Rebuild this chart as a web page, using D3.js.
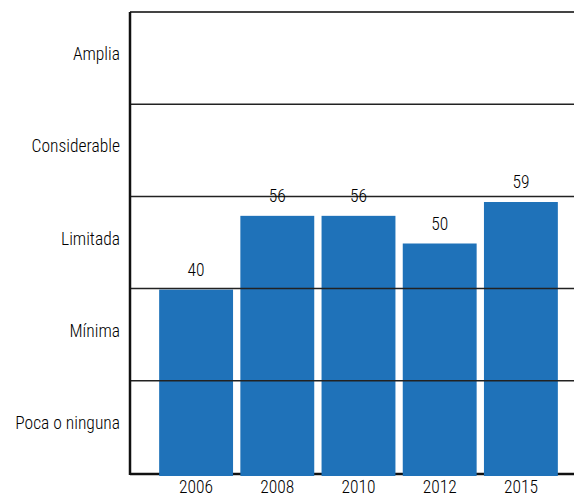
<!DOCTYPE html>
<html>
<head>
<meta charset="utf-8">
<script src="https://cdn.jsdelivr.net/npm/d3@7"></script>
<style>
  body { margin: 0; background: #fff; }
  text { font-family: "Liberation Sans Narrow", "Roboto Condensed", "DejaVu Sans Condensed", Roboto, sans-serif; font-size: 17.5px; font-weight: 300; fill: #000; }
</style>
</head>
<body>
<div id="grafica"></div>
<script>
// datos
let years = ["2006", "2008", "2010", "2012", "2015"]
let values = [40, 56, 56, 50, 59]
let levels = ["Poca o ninguna", "Mínima", "Limitada", "Considerable", "Amplia"]
let levelTicks = [0, 20, 40, 60, 80, 100]

let width = 574
let height = 496

let plotLeft = 130
let plotTop = 13
let plotBottom = 474

const xScale = d3.scaleBand()
  .domain(years)
  .range([155.5, 561.5])
  .paddingInner(0.09)
  .paddingOuter(0.045)

const yScale = d3.scaleLinear()
  .domain([0, 100])
  .range([plotBottom, plotTop])

const svg = d3.select('#grafica')
  .append("svg")
  .attr("width", width)
  .attr("height", height)

// linea base
svg.append("line")
  .attr("x1", plotLeft)
  .attr("x2", width)
  .attr("y1", yScale(0))
  .attr("y2", yScale(0))
  .attr("stroke", "#111")
  .attr("stroke-width", 2.5)

// barras
svg.selectAll("rect.bar")
  .data(values)
  .enter()
  .append("rect")
  .attr("class", "bar")
  .attr("x", (d, i) => xScale(years[i]))
  .attr("y", d => yScale(d))
  .attr("width", xScale.bandwidth())
  .attr("height", d => yScale(0) - yScale(d) + 2)
  .attr("fill", "#1f72b9")

// lineas de nivel
svg.selectAll("line.grid")
  .data(levelTicks.slice(1))
  .enter()
  .append("line")
  .attr("class", "grid")
  .attr("x1", plotLeft)
  .attr("x2", width)
  .attr("y1", d => yScale(d) - 1)
  .attr("y2", d => yScale(d) - 1)
  .attr("stroke", d => d == 100 ? "#444" : "#222")
  .attr("stroke-width", d => d == 100 ? 2 : 1.5)

// eje y
svg.append("line")
  .attr("x1", plotLeft)
  .attr("x2", plotLeft)
  .attr("y1", plotTop - 1)
  .attr("y2", plotBottom + 1)
  .attr("stroke", "#111")
  .attr("stroke-width", 2.5)

// etiquetas de nivel
svg.selectAll("text.level")
  .data(levels)
  .enter()
  .append("text")
  .attr("class", "level")
  .attr("text-anchor", "end")
  .attr("x", 120)
  .attr("y", (d, i) => (yScale(levelTicks[i]) + yScale(levelTicks[i + 1])) / 2 + 1)
  .text(d => d)

// valores
svg.selectAll("text.value")
  .data(values)
  .enter()
  .append("text")
  .attr("class", "value")
  .attr("text-anchor", "middle")
  .attr("x", (d, i) => xScale(years[i]) + xScale.bandwidth() / 2)
  .attr("y", d => yScale(d) - 14)
  .text(d => d)

// años
svg.selectAll("text.year")
  .data(years)
  .enter()
  .append("text")
  .attr("class", "year")
  .attr("text-anchor", "middle")
  .attr("x", d => xScale(d) + xScale.bandwidth() / 2)
  .attr("y", 493)
  .text(d => d)
</script>
</body>
</html>
